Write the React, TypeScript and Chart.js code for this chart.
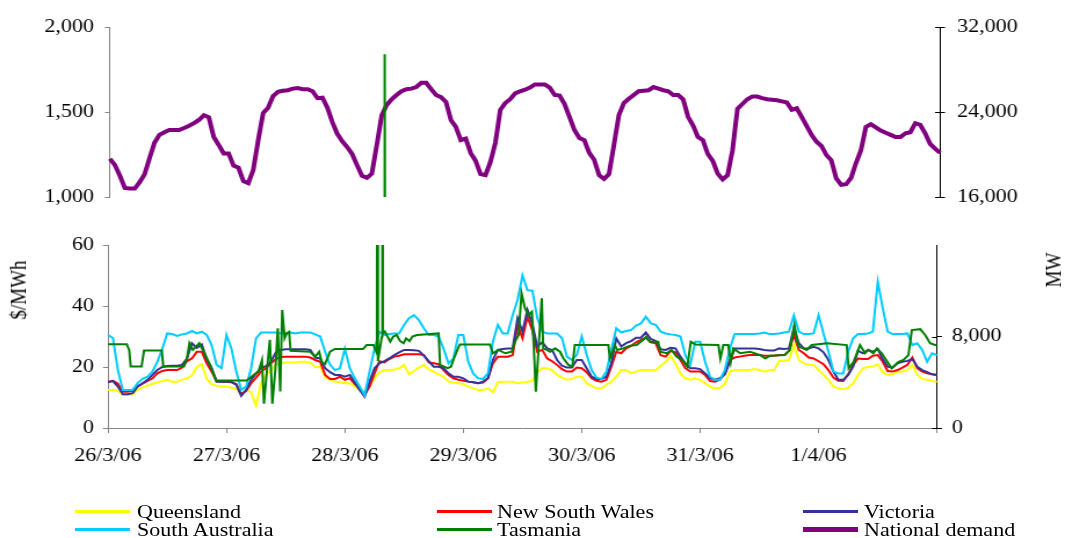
import { useEffect, useRef } from 'react';
import { Chart, registerables } from 'chart.js';

Chart.register(...registerables);

// ---------- data ----------
const dayLabels = ['26/3/06', '27/3/06', '28/3/06', '29/3/06', '30/3/06', '31/3/06', '1/4/06'];

// Hourly regional prices ($/MWh); index 0 = 26/3/06 00:00, index 168 = 2/4/06 00:00
const queensland = [
  12.5, 12.5, 12.2, 10.8, 10.8, 11.0, 12.5, 13.3, 13.9, 14.5,
  15.0, 15.4, 15.8, 15.2, 15.2, 15.8, 16.3, 17.2, 20.1, 20.9,
  16.1, 14.3, 13.9, 13.6, 13.6, 13.2, 12.8, 11.0, 12.5, 11.7,
  7.3, 14.7, 17.4, 19.0, 20.7, 21.2, 21.5, 21.5, 21.5, 21.7,
  21.7, 21.5, 19.9, 20.1, 16.8, 15.8, 15.2, 15.0, 14.7, 14.7,
  13.6, 12.5, 11.9, 13.6, 16.3, 18.3, 19.0, 19.0, 19.2, 19.6,
  20.7, 17.6, 18.7, 19.8, 20.7, 19.2, 18.5, 17.6, 16.8, 15.2,
  14.9, 14.7, 14.4, 13.6, 13.0, 12.5, 12.5, 13.0, 11.7, 15.0,
  15.2, 15.2, 15.2, 14.7, 14.9, 15.2, 15.4, 18.3, 19.6, 19.6,
  19.0, 17.4, 16.5, 15.8, 16.1, 16.8, 16.8, 14.7, 13.8, 13.0,
  13.0, 14.1, 15.2, 16.8, 19.0, 19.0, 17.9, 18.5, 19.0, 19.0,
  19.0, 19.0, 20.4, 21.7, 23.7, 21.2, 17.9, 16.3, 15.8, 16.3,
  15.8, 14.7, 13.6, 13.0, 13.2, 14.4, 18.5, 19.0, 19.0, 19.0,
  19.0, 19.3, 19.0, 18.5, 19.0, 19.0, 22.0, 22.0, 22.3, 27.2,
  22.3, 21.2, 20.7, 20.7, 19.0, 17.4, 15.8, 13.6, 13.0, 12.7,
  13.2, 14.7, 17.4, 19.6, 20.1, 20.1, 20.9, 18.3, 17.4, 17.6,
  18.5, 18.5, 19.0, 20.7, 17.4, 16.1, 15.8, 15.4, 15.2,
];

const newSouthWales = [
  15.2, 15.5, 14.5, 11.9, 11.9, 12.2, 13.6, 14.5, 15.4, 16.3,
  17.9, 18.7, 19.0, 19.0, 19.0, 19.8, 21.9, 22.8, 25.0, 25.0,
  21.2, 18.5, 15.4, 15.2, 15.2, 15.0, 14.4, 11.1, 12.2, 14.7,
  16.5, 18.5, 19.6, 21.2, 22.6, 23.3, 23.4, 23.4, 23.4, 23.4,
  23.4, 23.1, 22.3, 21.7, 17.4, 16.1, 16.1, 16.8, 15.8, 16.3,
  14.5, 12.8, 10.8, 13.6, 17.9, 21.9, 21.5, 22.6, 23.4, 23.7,
  24.2, 24.2, 24.2, 24.2, 23.9, 21.5, 21.2, 20.9, 19.0, 17.4,
  16.3, 15.8, 15.5, 15.2, 15.0, 14.7, 14.9, 16.3, 21.2, 23.4,
  23.4, 23.4, 23.9, 33.8, 29.4, 36.5, 32.0, 25.0, 25.6, 22.8,
  21.9, 20.7, 19.3, 18.5, 18.5, 19.8, 19.6, 18.3, 16.3, 15.5,
  15.2, 15.8, 20.1, 25.0, 24.5, 26.1, 26.9, 28.1, 28.9, 29.6,
  28.1, 27.8, 23.9, 23.4, 25.3, 24.8, 22.3, 19.6, 18.5, 18.5,
  18.5, 17.4, 15.4, 15.2, 15.8, 17.9, 22.3, 23.1, 23.4, 23.7,
  23.9, 23.9, 23.9, 23.7, 23.7, 23.7, 23.9, 23.9, 25.3, 30.5,
  25.6, 24.5, 23.1, 22.8, 21.9, 20.9, 19.0, 16.5, 15.5, 15.4,
  17.6, 20.7, 22.8, 22.6, 22.6, 23.7, 23.9, 21.7, 18.7, 18.5,
  19.0, 19.8, 20.7, 23.1, 19.6, 18.5, 17.9, 17.6, 17.4,
];

const victoria = [
  15.0, 15.4, 13.6, 11.1, 11.1, 11.4, 13.6, 14.7, 15.8, 17.4,
  19.0, 20.0, 20.3, 20.4, 20.4, 20.7, 22.8, 27.8, 26.3, 27.4,
  22.6, 19.6, 15.2, 15.2, 15.2, 15.2, 14.1, 10.5, 12.5, 15.8,
  17.9, 19.6, 20.3, 21.7, 24.8, 25.6, 25.8, 25.8, 25.8, 25.8,
  25.8, 25.6, 23.1, 22.8, 19.6, 18.3, 17.4, 17.4, 16.8, 17.4,
  15.0, 12.5, 10.3, 15.2, 19.6, 21.2, 21.9, 22.8, 23.9, 24.8,
  25.6, 25.6, 25.5, 25.3, 23.7, 21.9, 20.1, 20.1, 19.6, 17.9,
  16.8, 16.8, 16.3, 15.2, 15.0, 14.7, 15.2, 16.3, 22.3, 25.6,
  25.9, 26.1, 26.1, 36.0, 31.6, 38.7, 34.0, 26.7, 28.1, 26.1,
  25.6, 22.3, 20.4, 19.8, 19.8, 22.3, 22.3, 19.6, 16.8, 16.1,
  16.1, 16.8, 21.2, 29.4, 26.7, 27.8, 28.5, 29.6, 29.6, 31.3,
  29.2, 28.5, 25.8, 25.6, 26.3, 26.1, 23.4, 21.2, 19.6, 19.6,
  19.3, 17.9, 16.3, 15.8, 16.3, 17.6, 21.7, 26.1, 26.1, 26.1,
  26.1, 26.1, 25.9, 25.6, 25.4, 25.4, 26.1, 25.9, 26.1, 32.7,
  27.8, 26.1, 26.1, 26.6, 26.1, 24.8, 22.3, 18.5, 15.8, 15.8,
  17.4, 20.1, 25.3, 24.5, 25.6, 25.0, 25.9, 22.6, 20.1, 19.8,
  21.2, 21.7, 22.0, 22.6, 20.1, 19.0, 18.3, 17.6, 17.4,
];

const southAustralia = [
  30.5, 29.5, 19.0, 12.5, 12.5, 12.5, 14.7, 16.1, 16.8, 18.5,
  21.7, 26.0, 31.0, 30.8, 30.2, 30.7, 31.0, 31.8, 31.0, 31.6,
  30.5, 27.2, 20.7, 19.6, 30.5, 26.1, 18.5, 12.5, 13.6, 19.6,
  29.4, 31.3, 31.3, 31.3, 31.3, 31.0, 31.0, 31.3, 31.0, 31.3,
  31.3, 31.3, 30.7, 30.0, 25.0, 20.7, 19.0, 19.6, 26.0, 19.6,
  16.3, 13.6, 10.8, 18.5, 26.0, 31.6, 30.5, 30.8, 31.0, 31.0,
  33.8, 36.0, 37.0, 35.4, 32.7, 30.5, 30.5, 30.0, 26.0, 21.2,
  22.8, 30.5, 30.5, 21.7, 17.9, 16.3, 16.1, 17.9, 28.3, 33.8,
  31.0, 31.0, 37.0, 42.0, 50.0, 45.2, 45.0, 36.0, 31.6, 31.0,
  31.0, 31.0, 29.4, 23.4, 22.3, 24.0, 30.0, 24.0, 19.0, 16.5,
  16.1, 18.5, 25.6, 32.7, 31.3, 31.8, 32.1, 33.6, 34.3, 36.5,
  34.3, 33.8, 31.6, 31.0, 30.7, 30.5, 30.0, 23.9, 20.7, 28.3,
  28.3, 21.7, 16.8, 15.8, 15.8, 19.0, 26.0, 30.8, 30.8, 30.8,
  30.8, 30.8, 31.0, 31.3, 30.8, 30.8, 31.0, 31.3, 31.6, 37.0,
  31.6, 30.8, 30.8, 31.0, 37.0, 31.0, 25.0, 18.5, 17.9, 17.9,
  25.0, 29.4, 30.8, 30.8, 31.0, 31.6, 48.0, 39.3, 31.6, 30.8,
  30.8, 30.8, 31.0, 27.2, 27.8, 25.6, 21.7, 24.5, 23.9,
];

// Tasmania moves in steps and short spikes, so it is kept as break points (hour, $/MWh)
const tasmaniaHours = [
  0, 3.8, 4.3, 4.6, 6.8, 7.3, 10.9, 11.2, 15.4, 16.0,
  16.5, 17.2, 18.5, 19.7, 20.7, 21.9, 28.1, 29.5, 30.5, 31.2,
  31.6, 32.3, 32.8, 33.3, 33.9, 34.4, 34.9, 35.3, 35.8, 36.2,
  36.7, 37.0, 41.0, 42.0, 42.8, 43.3, 44.0, 45.0, 46.0, 51.7,
  52.4, 53.8, 54.5, 54.6, 54.7, 55.5, 55.6, 55.7, 56.1, 57.2,
  57.8, 58.5, 59.2, 59.9, 60.4, 61.1, 61.7, 62.6, 67.0, 67.3,
  68.8, 69.5, 70.1, 70.8, 71.3, 77.4, 78.0, 79.1, 80.5, 81.8,
  82.5, 83.2, 83.8, 84.5, 85.2, 85.9, 86.3, 86.7, 87.9, 88.2,
  88.9, 89.6, 90.6, 91.6, 92.3, 93.3, 94.1, 94.6, 101.4, 101.7,
  102.7, 103.2, 104.4, 105.8, 107.1, 108.5, 109.1, 109.8, 111.5, 111.9,
  113.2, 114.2, 115.2, 116.6, 117.4, 118.1, 119.0, 123.7, 124.1, 124.7,
  125.7, 126.2, 126.7, 128.1, 130.1, 132.2, 133.2, 134.2, 137.2, 138.2,
  139.1, 139.9, 140.9, 141.6, 142.6, 145.7, 149.7, 150.1, 151.1, 152.4,
  153.4, 154.1, 155.1, 155.8, 156.8, 158.8, 160.2, 161.2, 162.2, 162.9,
  164.6, 165.6, 166.6, 167.6, 168,
];
const tasmaniaPrices = [
  27.5, 27.5, 25.5, 20.2, 20.2, 25.4, 25.4, 20.2, 20.2, 22.8,
  27.8, 25.6, 27.8, 23.9, 20.7, 15.6, 15.6, 17.4, 18.5, 22.2,
  8.0, 20.5, 28.9, 8.0, 19.0, 32.7, 12.0, 38.7, 29.5, 31.0,
  31.5, 25.3, 25.0, 23.4, 25.0, 21.5, 21.0, 25.0, 25.9, 25.9,
  27.2, 27.2, 24.5, 250, 22.0, 30.0, 1840, 31.0, 31.6, 28.3,
  30.0, 30.5, 28.5, 27.8, 29.4, 28.5, 30.0, 30.5, 31.0, 20.7,
  19.6, 20.1, 22.8, 25.6, 27.4, 27.4, 24.5, 25.6, 24.5, 25.0,
  28.3, 30.5, 44.2, 39.3, 37.0, 38.1, 26.1, 11.9, 42.5, 26.1,
  25.6, 25.0, 26.1, 25.0, 22.8, 20.7, 20.1, 27.2, 27.2, 22.8,
  27.2, 25.6, 26.1, 27.0, 27.2, 28.9, 30.0, 28.3, 28.3, 25.0,
  24.5, 25.6, 23.4, 22.0, 20.1, 28.3, 27.4, 27.2, 22.8, 27.2,
  27.2, 21.7, 26.1, 24.5, 25.0, 23.9, 22.8, 23.7, 23.9, 25.6,
  33.8, 26.7, 26.1, 25.6, 27.2, 27.8, 27.2, 19.6, 21.7, 27.2,
  24.5, 25.6, 24.5, 26.1, 24.5, 19.6, 21.7, 22.3, 23.9, 32.1,
  32.4, 30.5, 27.8, 27.2, 27.2,
];

// Hourly national demand (MW)
const nationalDemand = [
  19600, 19000, 18000, 16850, 16800, 16800, 17400, 18150, 19650, 21100,
  21850, 22100, 22300, 22300, 22300, 22500, 22700, 22950, 23250, 23700,
  23500, 21650, 20900, 20100, 20100, 18950, 18750, 17500, 17300, 18550,
  21350, 23900, 24400, 25500, 25900, 26000, 26050, 26200, 26250, 26150,
  26150, 25950, 25300, 25350, 24400, 23050, 21950, 21250, 20700, 20050,
  19000, 18000, 17800, 18200, 20900, 23700, 24650, 25200, 25600, 25950,
  26150, 26200, 26350, 26750, 26750, 26150, 25600, 25400, 24950, 23250,
  22600, 21350, 21500, 20150, 19400, 18150, 18050, 19300, 21100, 24200,
  24850, 25200, 25750, 25950, 26100, 26300, 26600, 26600, 26600, 26300,
  25600, 25550, 24750, 23550, 22300, 21550, 21350, 20150, 19500, 18050,
  17700, 18150, 20900, 23700, 24850, 25250, 25600, 25950, 26000, 26050,
  26350, 26200, 26050, 25950, 25600, 25600, 25200, 23550, 22750, 21650,
  21350, 20050, 19400, 18200, 17650, 18050, 20400, 24300, 24750, 25200,
  25450, 25450, 25300, 25200, 25150, 25100, 25000, 24900, 24200, 24350,
  23550, 22700, 21850, 21200, 20800, 19950, 19450, 17750, 17150, 17200,
  17800, 19200, 20400, 22600, 22850, 22550, 22250, 22050, 21850, 21650,
  21650, 22000, 22100, 22950, 22800, 22000, 21000, 20550, 20150,
];

// ---------- styling ----------
const YELLOW = '#FFFF00';
const RED = '#FF0000';
const NAVY = '#333399';
const CYAN = '#00CCFF';
const GREEN = '#008000';
const PURPLE = '#800080';
const GREY = '#868686';
const FONT = "'Liberation Serif', 'Times New Roman', serif";
const FONT_SIZE = 19;

const W = 1065;
const H = 538;
const SX = 1.16; // horizontal stretch applied to the drawing
const CW = Math.round(W / SX);
const k = CW / W; // css px -> canvas px, horizontally

const fmt = (v: number | string) => Number(v).toLocaleString('en-US');
const hourly = (vals: number[]) => vals.map((y, x) => ({ x, y }));
const tasmaniaPoints = tasmaniaHours.map((x, i) => ({ x, y: tasmaniaPrices[i] }));
const clip = { left: 4, right: 4, top: 0, bottom: 0 };
const tickFont = { family: FONT, size: FONT_SIZE };

// short inward tick marks on the right-hand axis
const innerTicks = {
  id: 'innerTicks',
  afterDraw(chart: any) {
    const s = chart.scales.yR;
    const ctx = chart.ctx;
    const len = 5 * k;
    ctx.save();
    ctx.strokeStyle = '#000';
    ctx.lineWidth = 1;
    s.ticks.forEach((t: any) => {
      const y = Math.round(s.getPixelForValue(t.value)) + 0.5;
      ctx.beginPath();
      ctx.moveTo(s.left - len, y);
      ctx.lineTo(s.left, y);
      ctx.stroke();
    });
    ctx.restore();
  },
};

const leftAxis = (min: number, max: number, step: number, width: number, pad: number) => ({
  position: 'left',
  min,
  max,
  ticks: { stepSize: step, callback: fmt, font: tickFont, color: '#000', padding: pad * k },
  grid: { drawOnChartArea: false, drawTicks: true, tickLength: 5 * k, color: GREY },
  border: { display: true, color: GREY, width: 1 },
  afterFit: (s: any) => { s.width = width * k; },
});

const rightAxis = (min: number, max: number, step: number, width: number, pad: number, dropTop: boolean) => ({
  position: 'right',
  min,
  max,
  ticks: { stepSize: step, callback: fmt, font: tickFont, color: '#000', padding: pad * k },
  grid: { drawOnChartArea: false, drawTicks: true, tickLength: 5 * k, color: '#000' },
  border: { display: true, color: '#000', width: 1 },
  afterBuildTicks: (s: any) => {
    if (dropTop) s.ticks = s.ticks.filter((t: any) => t.value < max);
  },
  afterFit: (s: any) => { s.width = width * k; },
});

const common = {
  responsive: false,
  devicePixelRatio: 1,
  animation: false,
  events: [],
  elements: { point: { radius: 0 }, line: { tension: 0 } },
  plugins: { legend: { display: false }, tooltip: { enabled: false } },
};

const legendRows = [
  [
    { name: 'Queensland', color: YELLOW, w: 3 },
    { name: 'New South Wales', color: RED, w: 3 },
    { name: 'Victoria', color: NAVY, w: 3 },
  ],
  [
    { name: 'South Australia', color: CYAN, w: 3 },
    { name: 'Tasmania', color: GREEN, w: 3 },
    { name: 'National demand', color: PURPLE, w: 5 },
  ],
];
const legendSwatchX = [75, 437, 803];
const legendTextX = [137, 497, 864];
const legendRowY = [511, 529];

export default function App() {
  const topRef = useRef<HTMLCanvasElement>(null);
  const bottomRef = useRef<HTMLCanvasElement>(null);

  useEffect(() => {
    // upper panel: high price band and national demand
    const top = new Chart(topRef.current as HTMLCanvasElement, {
      type: 'line',
      data: {
        datasets: [
          { label: 'Tasmania', data: tasmaniaPoints, yAxisID: 'yL', borderColor: GREEN, borderWidth: 2, order: 0, clip },
          { label: 'National demand', data: hourly(nationalDemand), yAxisID: 'yR', borderColor: PURPLE, borderWidth: 4, order: 1, clip },
        ],
      },
      options: {
        ...common,
        layout: { padding: { top: 27, bottom: H - 197, left: 0, right: 0 } },
        scales: {
          x: { type: 'linear', min: 0, max: 168, display: false },
          yL: leftAxis(1000, 2000, 500, 110, 11),
          yR: rightAxis(16000, 32000, 8000, W - 940, 12, false),
        },
      } as any,
      plugins: [innerTicks],
    });

    // lower panel: regional prices 0-60 $/MWh
    const bottom = new Chart(bottomRef.current as HTMLCanvasElement, {
      type: 'line',
      data: {
        datasets: [
          { label: 'Tasmania', data: tasmaniaPoints, yAxisID: 'yL', borderColor: GREEN, borderWidth: 2, order: 0, clip },
          { label: 'South Australia', data: hourly(southAustralia), yAxisID: 'yL', borderColor: CYAN, borderWidth: 2, order: 1, clip },
          { label: 'Victoria', data: hourly(victoria), yAxisID: 'yL', borderColor: NAVY, borderWidth: 2, order: 2, clip },
          { label: 'New South Wales', data: hourly(newSouthWales), yAxisID: 'yL', borderColor: RED, borderWidth: 2, order: 3, clip },
          { label: 'Queensland', data: hourly(queensland), yAxisID: 'yL', borderColor: YELLOW, borderWidth: 2, order: 4, clip },
        ],
      },
      options: {
        ...common,
        layout: { padding: { top: 245, bottom: H - 428 - 52, left: 0, right: 0 } },
        scales: {
          x: {
            type: 'linear',
            min: 0,
            max: 168,
            ticks: {
              stepSize: 24,
              autoSkip: false,
              maxRotation: 0,
              font: tickFont,
              color: '#000',
              padding: 12,
              callback: (v: number) => dayLabels[Math.round(v / 24)] ?? '',
            },
            grid: { drawOnChartArea: false, drawTicks: true, tickLength: 5, color: GREY },
            border: { display: true, color: GREY, width: 1 },
            afterFit: (s: any) => { s.height = 52; },
          },
          yL: leftAxis(0, 60, 20, 108, 9),
          yR: rightAxis(0, 16000, 8000, W - 937, 10, true),
        },
      } as any,
      plugins: [innerTicks],
    });

    return () => {
      top.destroy();
      bottom.destroy();
    };
  }, []);

  const canvasStyle: any = { position: 'absolute', left: 0, top: 0, width: `${W}px`, height: `${H}px` };
  const textBase: any = { position: 'absolute', fontFamily: FONT, fontSize: `${FONT_SIZE}px`, lineHeight: 1, color: '#000', whiteSpace: 'nowrap' };

  return (
    <div style={{ position: 'fixed', left: 0, top: 0, width: W, height: H, background: '#fff', overflow: 'hidden' }}>
      <canvas ref={topRef} width={CW} height={H} style={canvasStyle} />
      <canvas ref={bottomRef} width={CW} height={H} style={canvasStyle} />
      <div style={{ ...textBase, left: 18, top: 290, transform: `translate(-50%, -50%) scaleX(${SX}) rotate(-90deg)` }}>$/MWh</div>
      <div style={{ ...textBase, left: 1053, top: 270, transform: `translate(-50%, -50%) scaleX(${SX}) rotate(-90deg)` }}>MW</div>
      {legendRows.map((row, r) =>
        row.map((item, c) => (
          <div key={item.name}>
            <div
              style={{
                position: 'absolute',
                left: legendSwatchX[c],
                top: legendRowY[r] - item.w / 2,
                width: 55,
                height: item.w,
                background: item.color,
              }}
            />
            <div
              style={{
                ...textBase,
                left: legendTextX[c],
                top: legendRowY[r],
                transformOrigin: 'left center',
                transform: `translateY(-50%) scaleX(${SX})`,
              }}
            >
              {item.name}
            </div>
          </div>
        ))
      )}
    </div>
  );
}
